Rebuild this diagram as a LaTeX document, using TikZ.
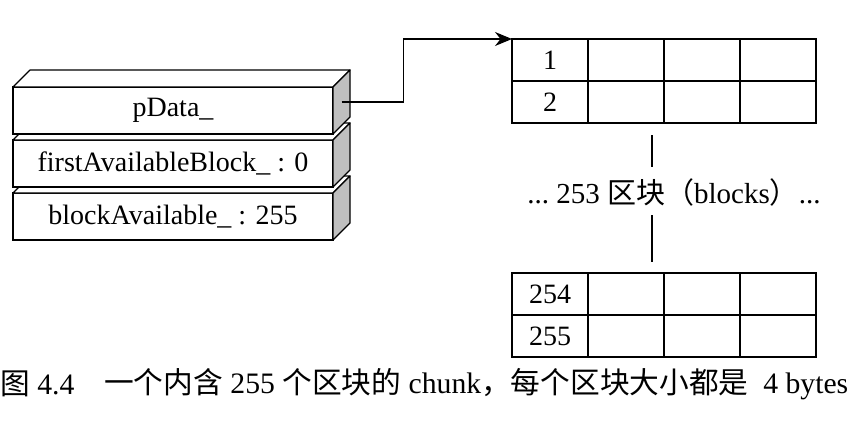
\documentclass[tikz,border=0pt]{standalone}
\usepackage{fontspec}
\setmainfont{Liberation Serif}
\newfontfamily\cjk{Noto Sans CJK SC}
\usetikzlibrary{positioning,arrows.meta}

\begin{document}
\begin{tikzpicture}[x=1pt, y=-1pt,
  field/.style={draw, fill=white, line width=1.2pt, minimum width=320pt, minimum height=47pt, inner sep=0pt, outer sep=0pt, font=\fontsize{28}{32}\selectfont},
  face/.style={draw, line width=1.2pt, line join=round},
  cell/.style={draw, line width=1.1pt, minimum width=76pt, minimum height=42pt, inner sep=0pt, outer sep=0pt, font=\fontsize{28}{32}\selectfont},
  lbl/.style={font=\fontsize{29}{34}\selectfont},
  captxt/.style={anchor=west, inner sep=0pt, font=\fontsize{29.7}{34}\selectfont},
  >={Stealth[length=17pt,width=14pt]}]
  \useasboundingbox (0,0) rectangle (856,425);
  % chunk header, drawn bottom up
  \foreach \i/\txt in {3/{blockAvailable\_ : 255}, 2/{firstAvailableBlock\_ : 0}, 1/{pData\_}} {
    \node[field] (b\i) at (173, {57.5+53*\i}) {\txt};
    \draw[face, fill=white] (b\i.north west) -- ++(17,-17) -- ([shift={(17,-17)}]b\i.north east) -- (b\i.north east) -- cycle;
    \draw[face, fill=black!25] (b\i.north east) -- ++(17,-17) -- ([shift={(17,-17)}]b\i.south east) -- (b\i.south east) -- cycle;
  }
  % blocks
  \foreach \r/\y/\n in {1/60/1, 2/102/2, 3/294/254, 4/336/255} {
    \node[cell] (r\r-1) at (550,\y) {\n};
    \foreach \c in {2,3,4}
      \node[cell] (r\r-\c) at ({474+76*\c},\y) {};
  }
  \node[lbl] (mid) at (674,192) {...\ 253 {\cjk 区块（}blocks{\cjk ）}...};
  \coordinate (lane) at (652,0);
  \draw[line width=1.2pt] ([yshift=-12pt]lane |- r2-1.south) -- ([yshift=25pt]lane |- mid);
  \draw[line width=1.2pt] ([yshift=-23pt]lane |- mid) -- ([yshift=11pt]lane |- r3-1.north);
  \draw[->, line width=1.2pt] ([shift={(8.5,-8.5)}]b1.east) -- ++(62,0) |- (r1-1.north west);
  % caption
  \node[captxt] (fig) at (0,384) {{\cjk 图} 4.4};
  \node[captxt] (title) at (104,384) {{\cjk 一个内含} 255 {\cjk 个区块的} chunk{\cjk ，每个区块大小都是}\ \ 4 bytes};
\end{tikzpicture}
\end{document}
